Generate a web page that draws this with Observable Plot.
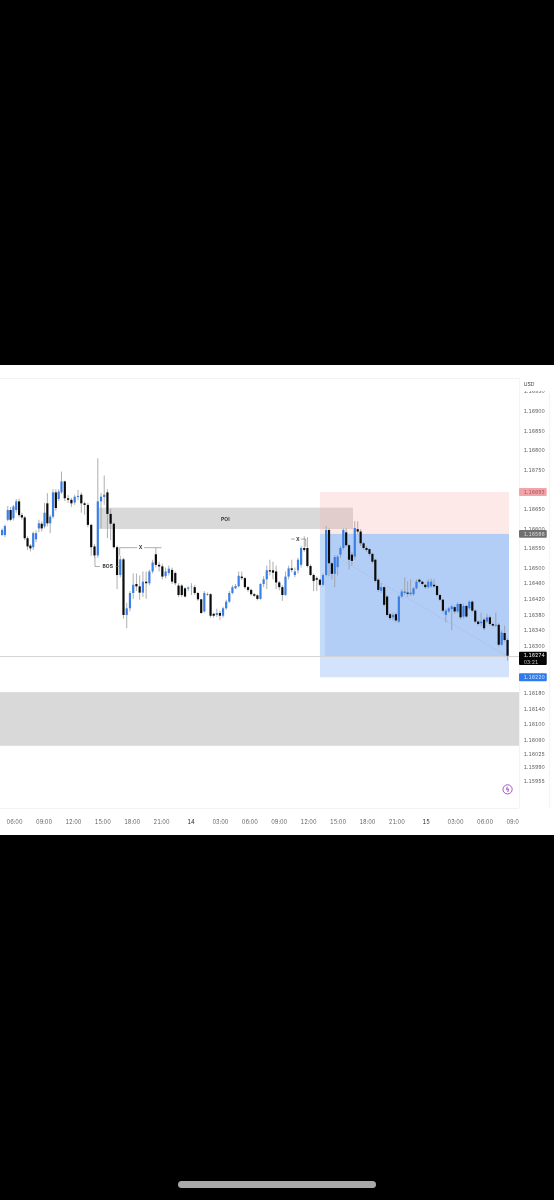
<!DOCTYPE html>
<html><head><meta charset="utf-8">
<script src="https://cdn.jsdelivr.net/npm/d3@7"></script>
<script src="https://cdn.jsdelivr.net/npm/@observablehq/plot@0.6"></script>
<style>
html,body{margin:0;padding:0;background:#000;width:554px;height:1200px;overflow:hidden}
#chart{position:absolute;left:0;top:365px;width:554px;height:470px;filter:blur(.4px)}
#chart svg{display:block;background:#fff;font-family:Inter,"Liberation Sans",sans-serif;font-variant-numeric:tabular-nums}
#pill{position:absolute;left:178px;top:1181px;width:198px;height:7px;border-radius:4px;background:#a9a9a9}
</style></head><body>
<div id="chart"></div><div id="pill"></div>
<script>
// Prices are in points: 16583 means 1.16583
const opens=[16583,16583,16622,16647,16626,16647,16669,16634,16628,16575,16556,16552,16572,16600,16612,16605,16664,16613,16630,16692,16675,16692,16720,16677,16673,16666,16680,16686,16664,16660,16609,16554,16531,16669,16680,16692,16637,16612,16552,16481,16521,16379,16396,16435,16458,16452,16436,16464,16460,16490,16534,16507,16503,16478,16486,16494,16486,16454,16454,
16447,16446,16450,16450,16435,16419,16388,16432,16432,16382,16379,16384,16377,16396,16413,16435,16447,16452,16477,16473,16450,16443,16432,16429,16420,16458,16470,16493,16493,16490,16462,16450,16430,16477,16498,16481,16493,16507,16550,16550,16504,16481,16473,16469,16456,16481,16596,16511,16484,16501,16533,16550,16590,16557,
16533,16528,16598,16592,16562,16550,16547,16535,16520,16469,16441,16450,16426,16381,16373,16381,16362,16426,16435,16436,16432,16432,16447,16469,16464,16456,16450,16452,16456,16453,16430,16418,16379,16388,16394,16399,16388,16407,16375,16402,16396,16413,16390,16362,16358,16367,16362,16373,16356,16352,16354,16303,16333,16315];
const closes=[16596,16606,16647,16622,16656,16669,16634,16628,16575,16554,16549,16588,16588,16613,16600,16640,16613,16630,16692,16652,16694,16720,16677,16673,16664,16681,16683,16664,16660,16609,16552,16531,16669,16681,16686,16637,16612,16552,16481,16521,16379,16396,16435,16456,16452,16436,16464,16460,16490,16513,16507,16503,16477,16490,16497,16464,16460,16430,16430,
16426,16449,16451,16435,16419,16384,16435,16431,16377,16377,16384,16377,16396,16413,16435,16450,16453,16479,16473,16450,16443,16432,16428,16420,16458,16470,16493,16490,16487,16462,16450,16430,16477,16498,16494,16490,16520,16550,16545,16504,16481,16466,16469,16456,16481,16596,16511,16484,16527,16528,16550,16596,16557,16520,
16517,16601,16592,16562,16550,16545,16535,16515,16466,16443,16450,16405,16379,16371,16379,16365,16426,16439,16439,16433,16436,16447,16464,16464,16458,16450,16464,16464,16452,16430,16418,16390,16390,16396,16401,16388,16407,16373,16402,16375,16413,16390,16362,16356,16362,16345,16373,16356,16352,16354,16303,16334,16315,16275];
const highs=[16600,16610,16657,16655,16660,16675,16676,16640,16632,16580,16560,16592,16595,16622,16618,16665,16690,16635,16700,16700,16700,16745,16722,16685,16678,16686,16698,16692,16668,16665,16612,16560,16779,16690,16735,16700,16650,16615,16556,16530,16525,16410,16440,16485,16485,16480,16490,16490,16495,16520,16550,16515,16510,16500,16505,16500,16490,16460,16458,
16450,16452,16460,16456,16438,16420,16440,16436,16435,16385,16395,16390,16400,16418,16440,16455,16458,16490,16490,16476,16453,16446,16435,16432,16460,16478,16505,16520,16515,16505,16466,16455,16490,16505,16520,16500,16525,16555,16580,16578,16508,16485,16478,16472,16485,16606,16600,16515,16532,16532,16555,16600,16600,16560,
16540,16618,16618,16598,16566,16555,16550,16538,16522,16473,16460,16452,16430,16385,16385,16385,16430,16445,16475,16465,16470,16450,16470,16472,16466,16458,16470,16472,16470,16456,16433,16420,16395,16400,16405,16403,16412,16410,16408,16405,16416,16416,16393,16365,16385,16372,16382,16378,16360,16385,16358,16340,16352,16320];
const lows=[16581,16578,16618,16618,16620,16640,16628,16622,16570,16545,16541,16545,16565,16590,16592,16600,16605,16588,16625,16645,16670,16688,16670,16665,16655,16660,16672,16640,16635,16603,16530,16525,16525,16600,16660,16575,16570,16548,16445,16475,16370,16345,16388,16420,16440,16418,16425,16420,16455,16485,16500,16490,16470,16472,16480,16458,16455,16425,16425,
16424,16440,16430,16430,16415,16382,16385,16428,16372,16372,16374,16366,16372,16392,16410,16432,16445,16450,16468,16445,16438,16428,16425,16416,16418,16450,16445,16480,16470,16445,16442,16415,16428,16470,16488,16475,16485,16500,16540,16500,16478,16440,16440,16452,16452,16478,16478,16470,16450,16480,16525,16545,16552,16495,
16505,16520,16585,16555,16545,16540,16530,16510,16462,16438,16435,16400,16375,16366,16365,16360,16358,16422,16430,16425,16428,16428,16444,16460,16454,16446,16446,16448,16448,16426,16415,16385,16360,16384,16340,16382,16384,16368,16370,16372,16392,16386,16358,16352,16350,16340,16358,16352,16348,16348,16298,16300,16310,16262];

// Time of bars at a few bars (hours since 13th 00:00)
const anchorBars=[0,21,32,40,64,91,104,114,166];
const anchorHours=[4.724,10.785,14.49,17.11,25.04,33.64,37.79,40.71,56.3];
const hourTicks=[6,9,12,15,18,21,24,27,30,33,36,39,42,45,48,51,54,57];
const hourLabels=["06:00","09:00","12:00","15:00","18:00","21:00","14","03:00","06:00","09:00","12:00","15:00","18:00","21:00","15","03:00","06:00","09:00"];
const priceTicks=[16950,16900,16850,16800,16750,16650,16600,16550,16500,16460,16420,16380,16340,16300,16180,16140,16100,16060,16025,15990,15955];

const poi={x1:14.66,x2:40.58,y1:16598.5,y2:16653};
const zoneBottom={x1:4.56,x2:57.52,y1:16045,y2:16182};
const stopPrice=16693, entryPrice=16586, lastPrice=16274, targetPrice=16220;
const posLeft=37.21, posInner=37.72, posRight=56.5, axisLeft=57.52, axisRight=61.09;

const barTime=d3.scaleLinear(anchorBars,anchorHours);
const candles=opens.map((o,i)=>({h:barTime(i),o,c:closes[i],hi:highs[i],lo:lows[i],up:closes[i]>=o}));
const fmt=v=>(1+v/1e5).toFixed(5);
const blue="#3a7fe6", ink="#0b0b0b", txt="#5f5f5f";
const font={fontFamily:"Inter,'Liberation Sans',sans-serif"};
const priceSize=5.1;

const chart=Plot.plot({
  width:554,height:470,margin:0,
  x:{type:"linear",domain:[4.561,61.09],axis:null},
  y:{type:"linear",domain:[15817.2,17017.2],axis:null},
  marks:[
    Plot.ruleY([16984],{stroke:"#f3f3f3",strokeWidth:1}),
    Plot.ruleY([15886],{stroke:"#f3f3f3",strokeWidth:1}),
    Plot.rect([zoneBottom],{x1:"x1",x2:"x2",y1:"y1",y2:"y2",fill:"#d9d9d9"}),
    Plot.rect([poi],{x1:"x1",x2:"x2",y1:"y1",y2:"y2",fill:"#d9d9d9"}),
    Plot.rect([{a:1}],{x1:posLeft,x2:posRight,y1:entryPrice,y2:stopPrice,fill:"#f8b4ad",fillOpacity:.28}),
    Plot.rect([{a:1}],{x1:posLeft,x2:posRight,y1:targetPrice,y2:entryPrice,fill:"#d3e3fc"}),
    Plot.rect([{a:1}],{x1:posLeft,x2:posInner,y1:lastPrice,y2:entryPrice,fill:"#c4daf9"}),
    Plot.rect([{a:1}],{x1:posInner,x2:posRight,y1:lastPrice,y2:entryPrice,fill:"#b2cef7"}),
    Plot.ruleY([lastPrice],{x1:4.56,x2:axisLeft,stroke:"#d2d2d2",strokeWidth:1}),
    Plot.link([{a:1}],{x1:39.5,y1:16519,x2:56.3,y2:16275,stroke:"#9db1d1",strokeWidth:.6,strokeDasharray:"1.5 1.5"}),
    Plot.ruleX(candles,{x:"h",y1:"lo",y2:"hi",stroke:"#999",strokeWidth:.8}),
    Plot.ruleX(candles,{x:"h",y1:"o",y2:"c",stroke:d=>d.up?blue:ink,strokeWidth:2.2}),
    Plot.text(["POI"],{x:27.5,y:16625,fontSize:5,fontWeight:700,fill:"#333",...font}),
    Plot.link([{x1:14.2,y1:16504,x2:14.7,y2:16504},{x1:14.2,y1:16504,x2:14.2,y2:16530},{x1:16.3,y1:16504,x2:16.9,y2:16504},
               {x1:16.72,y1:16552,x2:18.5,y2:16552},{x1:16.72,y1:16552,x2:16.72,y2:16532},{x1:19.2,y1:16552,x2:20.99,y2:16552},
               {x1:34.2,y1:16574,x2:34.6,y2:16574},{x1:35.7,y1:16574,x2:35.7,y2:16555},{x1:35.2,y1:16574,x2:35.7,y2:16574}],
      {x1:"x1",y1:"y1",x2:"x2",y2:"y2",stroke:"#777",strokeWidth:.6}),
    Plot.text(["BOS"],{x:15.5,y:16504,fontSize:5,fontWeight:700,fill:"#333",...font}),
    Plot.text(["X"],{x:18.85,y:16552,fontSize:5,fontWeight:700,fill:"#333",...font}),
    Plot.text(["X"],{x:34.9,y:16574,fontSize:5,fontWeight:700,fill:"#333",...font}),
    Plot.text(hourTicks,{x:d=>d,y:15852,text:(d,i)=>hourLabels[i],fontSize:5.6,
      fontWeight:(d,i)=>hourLabels[i].length<3?700:400,fill:(d,i)=>hourLabels[i].length<3?"#222":txt,...font}),
    Plot.dot([{a:1}],{x:56.3,y:15935,r:4.6,stroke:"#a455c9",strokeWidth:1,fill:"#fff"}),
    Plot.text(["\u03DF"],{x:56.3,y:15935,fontSize:7,fontWeight:700,fill:"#a455c9",fontFamily:"DejaVu Sans"}),
    Plot.rect([{a:1}],{x1:axisLeft,x2:axisRight,y1:15817.2,y2:17017.2,fill:"#fff"}),
    Plot.ruleX([axisLeft],{y1:15886,y2:16984,stroke:"#f3f3f3",strokeWidth:1}),
    Plot.ruleX([60.6],{y1:15886,y2:16984,stroke:"#f3f3f3",strokeWidth:1}),
    Plot.text(priceTicks,{x:57.95,y:d=>d,text:fmt,textAnchor:"start",fontSize:priceSize,fill:txt,...font}),
    Plot.rect([{a:1}],{x1:57.6,x2:61.09,y1:16951,y2:17017.2,fill:"#fff"}),
    Plot.text(["USD"],{x:57.95,y:16969,textAnchor:"start",fontSize:priceSize,fill:"#444",...font}),
    Plot.rect([{a:1}],{x1:axisLeft,x2:60.35,y1:stopPrice-10,y2:stopPrice+10,fill:"#f3a4a8",rx:1}),
    Plot.text([fmt(stopPrice)],{x:57.95,y:stopPrice,textAnchor:"start",fontSize:priceSize,fill:"#a8565c",...font}),
    Plot.rect([{a:1}],{x1:axisLeft,x2:60.35,y1:entryPrice-10,y2:entryPrice+10,fill:"#6f6f6f",rx:1}),
    Plot.text([fmt(entryPrice)],{x:57.95,y:entryPrice,textAnchor:"start",fontSize:priceSize,fill:"#d8d8d8",...font}),
    Plot.rect([{a:1}],{x1:axisLeft,x2:60.35,y1:lastPrice-23,y2:lastPrice+11,fill:"#050505",rx:1}),
    Plot.text([fmt(lastPrice)],{x:57.95,y:lastPrice+2,textAnchor:"start",fontSize:priceSize,fill:"#f2f2f2",...font}),
    Plot.text(["03:21"],{x:57.95,y:lastPrice-15,textAnchor:"start",fontSize:priceSize,fill:"#bdbdbd",...font}),
    Plot.rect([{a:1}],{x1:axisLeft,x2:60.35,y1:targetPrice-10,y2:targetPrice+10,fill:"#2f7bea",rx:1}),
    Plot.text([fmt(targetPrice)],{x:57.95,y:targetPrice,textAnchor:"start",fontSize:priceSize,fill:"#cfe0fb",...font})
  ]
});
document.getElementById("chart").append(chart);
</script>
</body></html>
